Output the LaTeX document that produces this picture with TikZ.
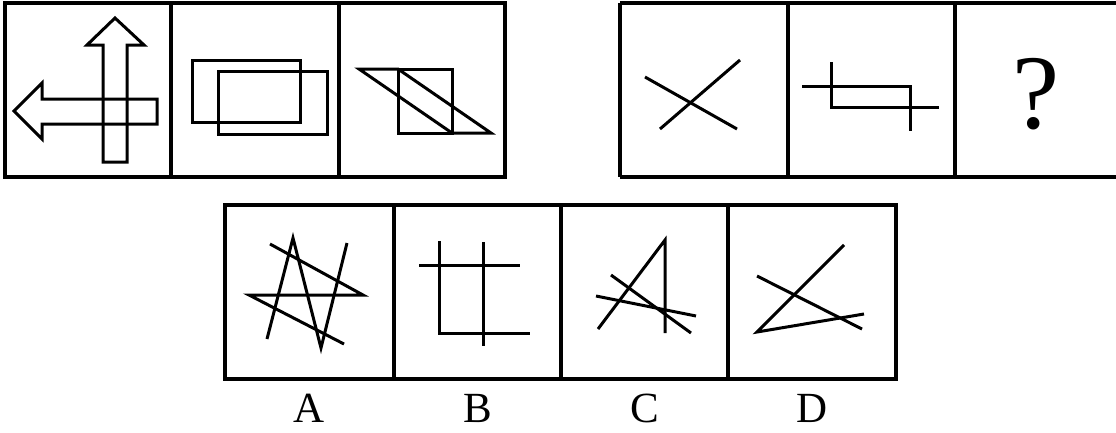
\documentclass[tikz,border=0pt]{standalone}
\usepackage{fontspec}
\setmainfont{Liberation Serif}
\begin{document}
\begin{tikzpicture}[x=1pt,y=-1pt,
  frame/.style={line width=3.4pt,draw=black},
  fig/.style={line width=3pt,draw=black,line join=miter},
  lab/.style={font=\fontsize{43}{43}\selectfont,inner sep=0pt}]
\useasboundingbox (0,0) rectangle (1116,432);
% top-left group
\draw[frame] (5,3) rectangle (505,177);
\draw[frame] (171,3) -- (171,177);
\draw[frame] (339,3) -- (339,177);
% top-right group
\draw[frame] (620,3) -- (1120,3) (620,177) -- (1120,177) (620,3) -- (620,177);
\draw[frame] (788,3) -- (788,177);
\draw[frame] (955,3) -- (955,177);
% bottom group
\draw[frame] (225,205) rectangle (896,379);
\draw[frame] (394,205) -- (394,379);
\draw[frame] (561,205) -- (561,379);
\draw[frame] (728,205) -- (728,379);
% panel 1: arrows
\draw[fig] (103,162) -- (127,162) -- (127,45) -- (144,45) -- (115,18) -- (87,45) -- (103,45) -- cycle;
\draw[fig] (157,99) -- (157,124) -- (42,124) -- (42,139) -- (14,111) -- (42,83) -- (42,99) -- cycle;
% panel 2: rectangles
\draw[fig] (192,60) rectangle (300,122);
\draw[fig] (218,71) rectangle (327,134);
% panel 3: square and parallelogram
\draw[fig] (398,69) rectangle (452,133);
\draw[fig] (359,69) -- (398,69) -- (491,133) -- (452,133) -- cycle;
% panel 4: cross
\draw[fig] (645,77) -- (737,129);
\draw[fig] (660,129) -- (740,60);
% panel 5
\draw[fig] (802,86) -- (910,86) -- (910,131);
\draw[fig] (831,62) -- (831,107) -- (939,107);
% panel 6
\node[inner sep=0pt,font=\fontsize{106}{106}\selectfont] (q) at (1036,94) {?};
% option A
\draw[fig] (267,339) -- (293,238) -- (321,348) -- (347,243);
\draw[fig] (270,244) -- (363,295) -- (249,295) -- (344,344);
% option B
\draw[fig] (439,241) -- (439,333) -- (530,333);
\draw[fig] (419,265) -- (520,265);
\draw[fig] (483,242) -- (483,346);
% option C
\draw[fig] (598,329) -- (665,240) -- (665,333);
\draw[fig] (611,275) -- (691,333);
\draw[fig] (596,296) -- (696,316);
% option D
\draw[fig] (844,245) -- (757,332) -- (864,314);
\draw[fig] (757,276) -- (862,329);
% labels
\node[lab] (la) at (309,408) {A};
\node[lab] (lb) at (478,408) {B};
\node[lab] (lc) at (645,408) {C};
\node[lab] (ld) at (812,408) {D};
\end{tikzpicture}
\end{document}
